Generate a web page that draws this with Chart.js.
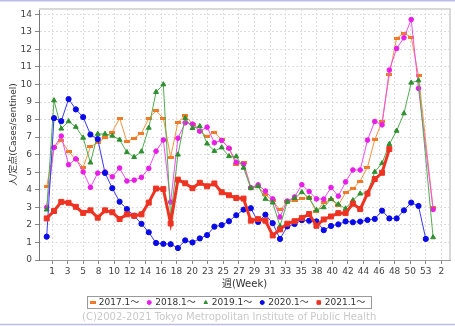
<!DOCTYPE html>
<html>
<head>
<meta charset="utf-8">
<script src="https://cdn.jsdelivr.net/npm/chart.js@4"></script>
<style>
  body { margin: 0; background: #fff; }
  canvas { display: block; }
</style>
</head>
<body>
<canvas id="weekChart" width="455" height="326"></canvas>
<script>
// weekly values, one entry per week position (null = no report that week)
const seriesNames = ['2017.1〜', '2018.1〜', '2019.1〜', '2020.1〜', '2021.1〜'];
const tickLabels = ['1', '3', '5', '8', '10', '12', '14', '16', '18', '20', '23', '25', '27',
  '29', '31', '33', '35', '38', '40', '42', '44', '46', '48', '50', '53', '2'];

const s2017 = [4.18, 6.41, 6.81, 6.18, 5.72, 5.29, 6.45, 6.68, 6.98, 7.29, 8.08, 6.75, 6.94, 7.23,
  8.06, 8.5, 8.08, 5.86, 7.84, 8.24, 7.74, 7.34, 7.04, 7.29, 6.85, 6.37, 5.42, 5.57, 4.15, 4.18,
  3.72, 3.38, 2.85, 3.31, 3.37, 3.51, 3.55, 2.75, 3.28, 3.43, 3.12, 3.84, 4.05, 4.5, 5.29, 6.85,
  7.89, 10.55, 12.64, 12.92, 12.7, 10.5, null, 2.97];
const s2018 = [3.0, 6.41, 7.06, 5.43, 5.76, 5.02, 4.14, 4.95, 5.02, 4.74, 5.24, 4.5, 4.55, 4.71,
  5.22, 6.2, 6.84, 3.3, 6.94, 7.82, 7.74, 7.34, 7.57, 6.68, 6.81, 6.37, 5.57, 5.45, 4.12, 4.28,
  3.93, 3.48, 2.45, 3.36, 3.59, 4.29, 3.9, 3.48, 3.47, 4.13, 3.64, 4.45, 5.13, 5.13, 6.83, 7.89,
  7.7, 10.82, 12.05, 12.66, 13.7, 9.78, null, 2.88];
const s2019 = [2.87, 9.09, 7.48, 7.9, 7.58, 6.96, 5.55, 7.18, 7.18, 7.08, 6.85, 6.14, 5.86, 6.18,
  7.53, 9.57, 10.0, 2.45, 6.0, 8.08, 7.51, 7.62, 6.63, 6.21, 6.41, 5.91, 5.9, 5.25, 4.09, 4.2,
  3.48, 3.27, 1.93, 3.31, 3.52, 3.86, 3.53, 2.84, 3.0, 3.47, 3.17, 2.93, 3.4, 3.78, 3.84, 5.02,
  5.51, 6.6, 7.36, 8.35, 10.1, 10.23, null, 1.29];
const s2020 = [1.33, 8.08, 7.91, 9.17, 8.58, 8.14, 7.15, 6.89, 4.96, 4.09, 3.32, 2.9, 2.52, 2.06,
  1.58, 0.97, 0.92, 0.9, 0.68, 1.12, 1.0, 1.23, 1.42, 1.9, 1.99, 2.21, 2.55, 2.87, 2.95, 2.17,
  2.58, 2.1, 1.2, 1.91, 2.05, 2.27, 2.24, 2.2, 1.7, 1.94, 2.03, 2.2, 2.15, 2.19, 2.28, 2.34,
  2.81, 2.37, 2.37, 2.83, 3.27, 3.08, 1.2];
const s2021 = [2.37, 2.79, 3.31, 3.26, 3.03, 2.68, 2.83, 2.41, 2.83, 2.72, 2.33, 2.6, 2.52, 2.6,
  3.27, 4.07, 4.04, 2.08, 4.58, 4.37, 4.09, 4.4, 4.2, 4.36, 3.86, 3.69, 3.53, 3.5, 2.24, 2.33,
  2.24, 1.4, 1.74, 2.07, 2.21, 2.39, 2.62, 1.95, 2.31, 2.48, 2.67, 2.67, 3.21, 2.9, 3.78, 4.61,
  4.97, 6.32];

Chart.defaults.font.family = "'DejaVu Sans', 'Noto Sans CJK JP', sans-serif";

// little flat orange marker for 2017
const dash = document.createElement('canvas');
dash.width = 6; dash.height = 3;
const dctx = dash.getContext('2d');
dctx.fillStyle = '#f07a28';
dctx.fillRect(0, 0, 6, 3);

const toPoints = arr => arr.map((v, i) => ({ x: i, y: v }));

const styles = [
  { line: '#f5923e', mark: '#f07a28', style: dash, r: 3, w: 1 },
  { line: '#f050f0', mark: '#e81ee8', style: 'circle', r: 2.3, w: 1 },
  { line: '#52ad52', mark: '#2f8f2f', style: 'triangle', r: 2.8, w: 1 },
  { line: '#3a3af5', mark: '#0a0ae8', style: 'circle', r: 2.6, w: 1 },
  { line: '#ee3322', mark: '#ee3322', style: 'rect', r: 3.5, w: 3 }
];
const allSeries = [s2017, s2018, s2019, s2020, s2021];

const datasets = allSeries.map((s, k) => ({
  label: seriesNames[k],
  data: toPoints(s),
  borderColor: styles[k].line,
  borderWidth: styles[k].w,
  backgroundColor: styles[k].mark,
  pointBackgroundColor: styles[k].mark,
  pointBorderColor: styles[k].mark,
  pointBorderWidth: 1,
  pointStyle: styles[k].style,
  pointRadius: styles[k].r,
  tension: 0,
  spanGaps: true,
  order: k === 4 ? 0 : 5 - k
}));

const extras = {
  id: 'extras',
  beforeDraw(chart) {
    const ctx = chart.ctx;
    ctx.save();
    ctx.fillStyle = '#fff';
    ctx.fillRect(0, 0, chart.width, chart.height);
    ctx.restore();
  },
  afterDraw(chart) {
    const ctx = chart.ctx;
    const a = chart.chartArea;
    ctx.save();
    // plot frame, top and right
    ctx.strokeStyle = '#d9d9d9';
    ctx.lineWidth = 2;
    ctx.beginPath();
    ctx.moveTo(a.left, a.top);
    ctx.lineTo(a.right, a.top);
    ctx.lineTo(a.right, a.bottom);
    ctx.stroke();

    // thin outer lines of the picture
    ctx.strokeStyle = '#bcbce8';
    ctx.lineWidth = 1.5;
    ctx.beginPath();
    ctx.moveTo(0, 0.75); ctx.lineTo(chart.width, 0.75);
    ctx.moveTo(0, chart.height - 1.5); ctx.lineTo(chart.width, chart.height - 1.5);
    ctx.stroke();

    // legend with a box
    ctx.font = "9px 'DejaVu Sans', 'Noto Sans CJK JP', sans-serif";
    ctx.textBaseline = 'middle';
    const ly = 302.5;
    const widths = seriesNames.map(n => ctx.measureText(n).width);
    const itemW = widths.map(w => 6 + w + 10);
    const total = itemW.reduce((p, c) => p + c, 0) - 10;
    let x = 229 - total / 2;
    ctx.strokeStyle = '#9a9a9a';
    ctx.lineWidth = 1;
    ctx.strokeRect(Math.round(x - 6) + 0.5, 296.5, Math.round(total + 12), 12);
    seriesNames.forEach((n, k) => {
      ctx.fillStyle = styles[k].mark;
      ctx.strokeStyle = styles[k].mark;
      Chart.helpers.drawPoint(ctx, {
        pointStyle: styles[k].style,
        radius: k === 4 ? 2.5 : (k === 0 ? 2.5 : 2),
        rotation: 0,
        borderWidth: 1
      }, x, ly);
      ctx.fillStyle = '#333';
      ctx.textAlign = 'left';
      ctx.fillText(n, x + 6, ly);
      x += itemW[k];
    });

    // copyright line
    const copy = '(C)2002-2021 Tokyo Metropolitan Institute of Public Health';
    ctx.font = "10px 'DejaVu Sans', sans-serif";
    const plain = ctx.measureText(copy).width;
    ctx.letterSpacing = ((294 - plain) / (copy.length - 1)).toFixed(2) + 'px';
    ctx.fillStyle = '#c9c9c9';
    ctx.textAlign = 'left';
    ctx.fillText(copy, 229 - 147, 317.5);
    ctx.restore();
  }
};

const canvas = document.getElementById('weekChart');

new Chart(canvas, {
  type: 'line',
  data: { datasets: datasets },
  plugins: [extras],
  options: {
    responsive: false,
    animation: false,
    layout: { padding: { top: 9, right: 5, bottom: 33, left: 0 } },
    plugins: {
      legend: { display: false },
      tooltip: { enabled: false }
    },
    scales: {
      x: {
        type: 'linear',
        min: -1.056,
        max: 55.32,
        afterBuildTicks: s => {
          s.ticks = tickLabels.map((t, k) => ({ value: 0.73 + k * 2.136 }));
        },
        afterFit: s => { s.height = 33; },
        ticks: {
          autoSkip: false,
          maxRotation: 0,
          padding: 2,
          color: '#444',
          font: { size: 9 },
          callback: (v, k) => tickLabels[k]
        },
        grid: { color: '#dedede', tickColor: '#888', tickLength: 4 },
        border: { color: '#999', dash: [2, 2] },
        title: {
          display: true,
          text: '週(Week)',
          color: '#333',
          font: { size: 10 },
          padding: { top: 0, bottom: 3 }
        }
      },
      y: {
        min: 0,
        max: 14.3,
        afterFit: s => { s.width = 39; },
        ticks: {
          stepSize: 1,
          includeBounds: false,
          padding: 3,
          color: '#444',
          font: { size: 9 }
        },
        grid: { color: '#dedede', tickColor: '#888', tickLength: 4 },
        border: { color: '#777', dash: [2, 2] },
        title: {
          display: true,
          text: '人/定点(Cases/sentinel)',
          color: '#333',
          font: { size: 9 },
          padding: { top: 8, bottom: 0 }
        }
      }
    }
  }
});
</script>
</body>
</html>
